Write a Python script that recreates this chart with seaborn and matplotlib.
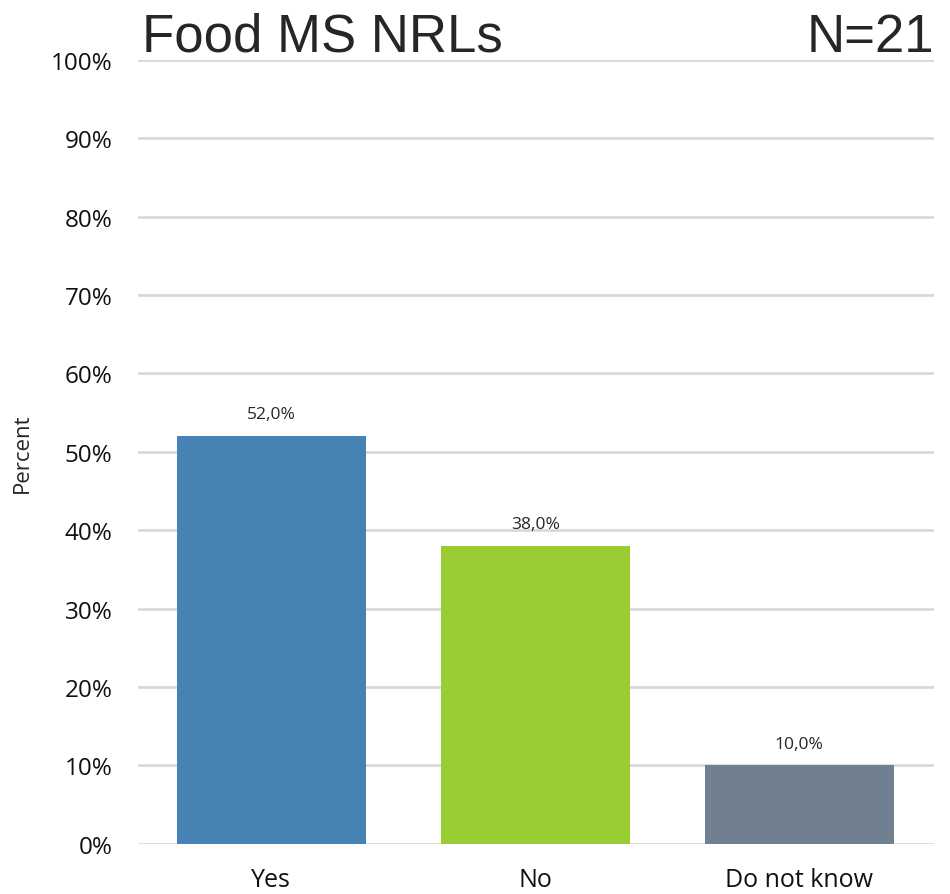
import matplotlib
matplotlib.use("Agg")
import matplotlib.pyplot as plt
import seaborn as sns
import pandas as pd
from matplotlib.ticker import FuncFormatter

# datos
categorias = ["Yes", "No", "Do not know"]
porcentajes = [52.0, 38.0, 10.0]
colores = ["#4682B4", "#9ACD32", "#708090"]
titulo = "Food MS NRLs"
n_texto = "N=21"

df = pd.DataFrame({"respuesta": categorias, "pct": porcentajes})

sns.set_style("white")
plt.rcParams["font.family"] = ["Liberation Sans", "DejaVu Sans"]
fuente_ejes = ["Open Sans", "DejaVu Sans"]

fig = plt.figure(figsize=(9.5, 8.95), dpi=100)
ax = fig.add_axes([0.145, 0.056, 0.838, 0.876])

sns.barplot(data=df, x="respuesta", y="pct", hue="respuesta",
            palette=colores, width=0.716, saturation=1, linewidth=0,
            legend=False, ax=ax, zorder=3)

ax.set_ylim(0, 100)
ax.set_xlim(-0.506, 2.51)
ax.set_yticks(range(0, 101, 10))
ax.yaxis.set_major_formatter(FuncFormatter(lambda v, p: f"{v:.0f}%"))
ax.yaxis.grid(True, color="#D9D9D9", linewidth=2, zorder=0)
ax.set_axisbelow(True)
for s in ax.spines.values():
    s.set_visible(False)
ax.tick_params(axis="y", length=0, labelsize=17.5, pad=18, colors="#111111")
ax.tick_params(axis="x", length=0, labelsize=18, pad=17, colors="#111111")
for lbl in ax.get_xticklabels() + ax.get_yticklabels():
    lbl.set_family(fuente_ejes)
ax.set_xlabel("")
ax.set_ylabel("Percent", fontsize=16, family=fuente_ejes)
ax.yaxis.set_label_coords(-0.132, 0.5)

for p in ax.patches:
    h = p.get_height()
    ax.annotate(f"{h:.1f}%".replace(".", ","),
                (p.get_x() + p.get_width() / 2, h),
                xytext=(0, 10), textcoords="offset points",
                ha="center", va="bottom", fontsize=12.5,
                family=fuente_ejes)

fig.text(0.149, 1 - 52 / 895, titulo, fontsize=38, color="#262626", va="baseline", ha="left")
fig.text(0.983, 1 - 52 / 895, n_texto, fontsize=38, color="#262626", va="baseline", ha="right")

plt.savefig("out.png", dpi=100)
